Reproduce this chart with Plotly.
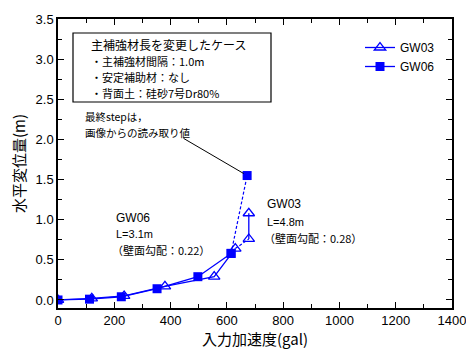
import plotly.graph_objects as go

# data
gw03_x = [0, 120, 235, 380, 555, 630, 678, 678]
gw03_y = [0.00, 0.02, 0.05, 0.17, 0.29, 0.64, 0.76, 1.08]
gw06_x = [0, 112, 225, 352, 497, 615, 672]
gw06_y = [0.00, 0.01, 0.04, 0.14, 0.29, 0.58, 1.55]

x_ticks = [0, 200, 400, 600, 800, 1000, 1200, 1400]
y_ticks = [0.0, 0.5, 1.0, 1.5, 2.0, 2.5, 3.0, 3.5]

BLUE = "#0000ff"
JP = "Noto Sans CJK JP"
EN = "Liberation Sans"

W, H = 466, 349
L, R, T, B = 58, 14, 19, 41
PW, PH = W - L - R, H - T - B

def px(x):
    return (x - L) / PW

def py(y):
    return (H - B - y) / PH

fig = go.Figure()

# GW03: solid up to index 5, dashed 5->6, solid 6->7
fig.add_trace(go.Scatter(x=gw03_x[:6], y=gw03_y[:6], mode="lines+markers", name="GW03",
                         line=dict(color=BLUE, width=1.3),
                         marker=dict(symbol="triangle-up-open", size=10, color=BLUE, line=dict(width=1.3))))
fig.add_trace(go.Scatter(x=gw03_x[5:7], y=gw03_y[5:7], mode="lines", showlegend=False,
                         line=dict(color=BLUE, width=1.2, dash="3px,2px")))
fig.add_trace(go.Scatter(x=gw03_x[6:], y=gw03_y[6:], mode="lines+markers", showlegend=False,
                         line=dict(color=BLUE, width=1.3),
                         marker=dict(symbol="triangle-up-open", size=10, color=BLUE, line=dict(width=1.3))))
# GW06: solid up to index 5, dashed last segment
fig.add_trace(go.Scatter(x=gw06_x[:6], y=gw06_y[:6], mode="lines+markers", name="GW06",
                         line=dict(color=BLUE, width=1.3),
                         marker=dict(symbol="square", size=9, color=BLUE)))
fig.add_trace(go.Scatter(x=gw06_x[5:], y=gw06_y[5:], mode="lines+markers", showlegend=False,
                         line=dict(color=BLUE, width=1.2, dash="3px,2px"),
                         marker=dict(symbol="square", size=9, color=BLUE)))

axis_common = dict(showline=True, linecolor="black", linewidth=1.5, mirror="ticks",
                   ticks="inside", ticklen=6, tickcolor="black", showgrid=False, zeroline=False,
                   automargin=False, ticklabeloverflow="allow",
                   tickfont=dict(family=EN, size=13, color="black"))

fig.update_xaxes(range=[0, 1400], tickvals=x_ticks, ticktext=[str(v) for v in x_ticks],
                 minor=dict(ticks="inside", ticklen=4, dtick=100, tickcolor="black"),
                 title=dict(text="入力加速度(gal)", font=dict(family=JP, size=15, color="black"), standoff=7),
                 **axis_common)
fig.update_yaxes(range=[-0.1, 3.5], tickvals=y_ticks, ticktext=[f"{v:.1f}" for v in y_ticks],
                 minor=dict(ticks="inside", ticklen=4, dtick=0.25, tick0=0, tickcolor="black"),
                 title=dict(text="水平変位量(m)", font=dict(family=JP, size=15, color="black"), standoff=6),
                 **axis_common)

annotations = []
def txt(x, y, s, size=12, fam=JP):
    annotations.append(dict(x=px(x), y=py(y), xref="paper", yref="paper", text=s, showarrow=False,
                            xanchor="left", yanchor="middle", align="left",
                            font=dict(family=fam, size=size, color="black")))

txt(89, 44, "主補強材長を変更したケース", 12)
txt(89, 61, "・主補強材間隔：1.0m", 11)
txt(89, 77, "・安定補助材：なし", 11)
txt(89, 93, "・背面土：硅砂7号Dr80%", 11)
txt(83, 116, "最終stepは，", 10.5)
txt(83, 132, "画像からの読み取り値", 10.5)
txt(114, 218, "GW06", 12, EN)
txt(114, 234, "L=3.1m", 11, EN)
txt(110, 250, "（壁面勾配：0.22）", 11)
txt(265, 204, "GW03", 12, EN)
txt(265, 222, "L=4.8m", 11, EN)
txt(262, 238, "（壁面勾配：0.28）", 11)

annotations.append(dict(x=gw06_x[-1], y=gw06_y[-1], xref="x", yref="y", ax=-65, ay=-38,
                        axref="pixel", ayref="pixel", text="", showarrow=True, arrowhead=0,
                        arrowwidth=1, arrowcolor="black", standoff=4))

fig.update_layout(
    width=W, height=H, margin=dict(l=L, r=R, t=T, b=B),
    plot_bgcolor="white", paper_bgcolor="white",
    annotations=annotations,
    shapes=[dict(type="rect", xref="paper", yref="paper", x0=px(73), x1=px(271), y0=py(102), y1=py(33),
                 line=dict(color="black", width=1.2))],
    legend=dict(x=px(360), y=py(33), xanchor="left", yanchor="top", bgcolor="rgba(0,0,0,0)",
                font=dict(family=EN, size=12, color="black"), tracegroupgap=0, itemwidth=30),
    showlegend=True,
)

fig.write_html("out.html")
